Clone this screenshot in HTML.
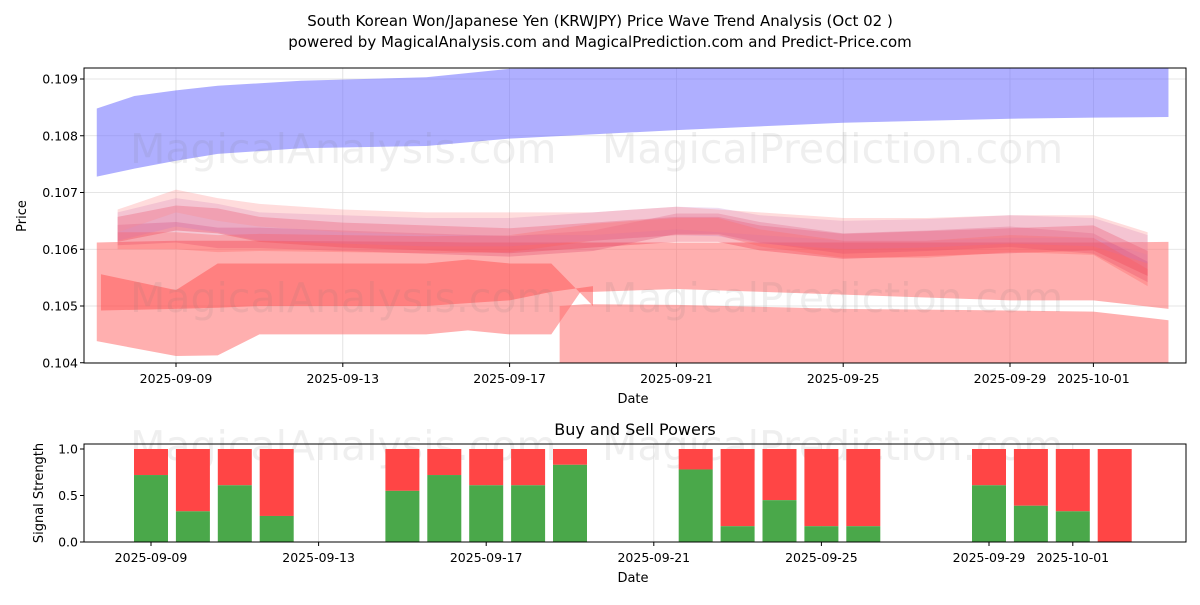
<!DOCTYPE html>
<html><head><meta charset="utf-8"><style>
body{margin:0;background:#fff;font-family:"Liberation Sans","DejaVu Sans",sans-serif}
svg text{font-family:"DejaVu Sans","Liberation Sans",sans-serif}
</style></head><body>
<svg id="c" width="1200" height="600" xmlns="http://www.w3.org/2000/svg">
<rect width="1200" height="600" fill="#fff"/>
<text x="600" y="26" text-anchor="middle" font-size="15">South Korean Won/Japanese Yen (KRWJPY) Price Wave Trend Analysis (Oct 02 )</text>
<text x="600" y="47" text-anchor="middle" font-size="15">powered by MagicalAnalysis.com and MagicalPrediction.com and Predict-Price.com</text>
<defs><clipPath id="cp1"><rect x="84" y="68" width="1102" height="295"/></clipPath></defs>
<g id="grid1"></g>
<g id="bands" clip-path="url(#cp1)"></g>
<g id="wm" font-size="41" fill="rgba(120,120,120,0.12)">
<text x="130" y="163">MagicalAnalysis.com</text>
<text x="602" y="163">MagicalPrediction.com</text>
<text x="130" y="312">MagicalAnalysis.com</text>
<text x="602" y="312">MagicalPrediction.com</text>
<text x="130" y="460">MagicalAnalysis.com</text>
<text x="602" y="460">MagicalPrediction.com</text>
</g>
<rect x="84" y="68" width="1102" height="295" fill="none" stroke="#000"/>
<g id="ax1" font-size="12.5"></g>
<text x="633" y="403" text-anchor="middle" font-size="13">Date</text>
<text x="26" y="216" text-anchor="middle" font-size="13" transform="rotate(-90 26 216)">Price</text>
<text x="635" y="435" text-anchor="middle" font-size="16">Buy and Sell Powers</text>
<g id="grid2"></g>
<g id="bars"></g>
<rect x="84" y="444" width="1102" height="98" fill="none" stroke="#000"/>
<g id="ax2" font-size="12.5"></g>
<text x="633" y="582" text-anchor="middle" font-size="13">Date</text>
<text x="43" y="493" text-anchor="middle" font-size="13" transform="rotate(-90 43 493)">Signal Strength</text>
</svg>
<script>
const NS="http://www.w3.org/2000/svg";
const priceTicks=[0.104,0.105,0.106,0.107,0.108,0.109];
const dateTicks=["2025-09-09","2025-09-13","2025-09-17","2025-09-21","2025-09-25","2025-09-29","2025-10-01"];
const dateTickDays=[2,6,10,14,18,22,24];
const purpleDays=[0.1,1,2,3,5,8,10,14,18,22,24,25.8];
const purpleTop=[0.10848,0.1087,0.1088,0.10888,0.10897,0.10903,0.10918,0.1092,0.1092,0.1092,0.1092,0.1092];
const purpleBot=[0.10728,0.10742,0.10756,0.10768,0.10778,0.10782,0.10795,0.1081,0.10823,0.10830,0.10832,0.10833];
const bigDays=[0.1,2,3,4,8,9,10,11,11.7,12,14,18,22,24,25.8];
const bigTop=[0.10612,0.10615,0.10615,0.10615,0.10613,0.10612,0.10612,0.10612,0.10612,0.10612,0.10612,0.10612,0.10612,0.10612,0.10613];
const bigBot=[0.10438,0.10412,0.10413,0.1045,0.1045,0.10457,0.1045,0.1045,0.10525,0.10525,0.1053,0.1052,0.1051,0.1051,0.10495];
const lowDays=[11.2,11.8,12,14,18,22,24,25.8];
const lowTop=[0.1050,0.10503,0.10503,0.10502,0.10495,0.10492,0.1049,0.10475];
const lowBot=[0.1034,0.1034,0.1034,0.1034,0.1034,0.1034,0.1034,0.1034];
const midDays=[0.2,2,3,4,8,9,10,11,12];
const midTop=[0.10556,0.10528,0.10575,0.10575,0.10575,0.10582,0.10575,0.10575,0.105];
const midBot=[0.10492,0.10495,0.10497,0.105,0.105,0.10505,0.1051,0.10525,0.10535];
const waveDays=[0.6,2,3,4,6,8,10,12,14,15,16,18,20,22,24,25.3];
const waveA=[0.10635,0.10655,0.1065,0.10635,0.10625,0.1062,0.10615,0.10625,0.10635,0.10635,0.1062,0.10605,0.1061,0.10615,0.1062,0.10575];
const waveB=[0.10625,0.1063,0.1062,0.1062,0.10615,0.1061,0.10605,0.10615,0.10645,0.10645,0.1063,0.1061,0.10615,0.10622,0.1061,0.1056];
const waveC=[0.1064,0.10665,0.10655,0.1064,0.10635,0.1063,0.1063,0.1064,0.1065,0.10648,0.10635,0.10625,0.10628,0.10635,0.1063,0.106];
const waveD=[0.10615,0.10615,0.1061,0.10612,0.1061,0.10608,0.1061,0.1063,0.1064,0.1064,0.1062,0.106,0.106,0.1061,0.10605,0.1055];
const waveE=[0.1065,0.10685,0.1067,0.1066,0.1065,0.10645,0.10645,0.10645,0.10655,0.1065,0.10645,0.10635,0.10635,0.1064,0.1064,0.1061];
const waveHalf=[0.00022,0.00018,0.00025,0.00015,0.0002];
const waveColors=["rgba(240,60,80,0.35)","rgba(220,70,110,0.3)","rgba(190,120,200,0.25)","rgba(255,90,90,0.3)","rgba(255,140,140,0.3)"];
const barDays=[2,3,4,5,8,9,10,11,12,15,16,17,18,19,22,23,24,25];
const buyVals=[0.72,0.33,0.61,0.28,0.55,0.72,0.61,0.61,0.83,0.78,0.17,0.45,0.17,0.17,0.61,0.39,0.33,0.0];
const sigTicks=[0.0,0.5,1.0];

const X=d=>92.6+d*41.7, Y=v=>79+(0.109-v)/0.001*56.75;
const X2=d=>67.2+d*41.9, Y2=v=>542-v*93;
function el(t,a,p){const e=document.createElementNS(NS,t);for(const k in a)e.setAttribute(k,a[k]);document.getElementById(p).appendChild(e);return e;}
function band(days,top,bot,fill,name){
  const pts=days.map((d,i)=>X(d)+","+Y(top[i])).concat(days.map((d,i)=>X(d)+","+Y(bot[i])).reverse());
  const e=el("polygon",{points:pts.join(" "),fill:fill},"bands");
  
  
}
priceTicks.forEach(v=>{
  const g=el("line",{x1:84,x2:1186,y1:Y(v),y2:Y(v),stroke:"#ddd","stroke-width":0.8},"grid1");
  
  
  const t=el("text",{x:78,y:Y(v)+4.5,"text-anchor":"end"},"ax1");t.textContent=v.toFixed(3);
  
  
  el("line",{x1:80,x2:84,y1:Y(v),y2:Y(v),stroke:"#000"},"ax1");
});
dateTickDays.forEach((d,i)=>{
  const g=el("line",{x1:X(d),x2:X(d),y1:68,y2:363,stroke:"#ddd","stroke-width":0.8},"grid1");
  
  
  el("line",{x1:X(d),x2:X(d),y1:363,y2:367,stroke:"#000"},"ax1");
  const t=el("text",{x:X(d),y:383,"text-anchor":"middle"},"ax1");t.textContent=dateTicks[i];
  
  
  el("line",{x1:X2(d),x2:X2(d),y1:444,y2:542,stroke:"#ddd","stroke-width":0.8},"grid2");
  el("line",{x1:X2(d),x2:X2(d),y1:542,y2:546,stroke:"#000"},"ax2");
  const t2=el("text",{x:X2(d),y:562,"text-anchor":"middle"},"ax2");t2.textContent=dateTicks[i];
  
  
});
band(purpleDays,purpleTop,purpleBot,"rgba(110,110,255,0.55)","purple-band");
band(bigDays,bigTop,bigBot,"rgba(255,110,110,0.55)","wide-band");
band(lowDays,lowTop,lowBot,"rgba(255,110,110,0.55)","low-band");
band(midDays,midTop,midBot,"rgba(255,70,70,0.45)","mid-band");
[waveA,waveB,waveC,waveD,waveE].forEach((w,k)=>{
  const h=waveHalf[k];
  band(waveDays,w.map(v=>v+h),w.map(v=>v-h),waveColors[k],"wave-band");
});
sigTicks.forEach(v=>{
  el("line",{x1:80,x2:84,y1:Y2(v),y2:Y2(v),stroke:"#000"},"ax2");
  const t=el("text",{x:78,y:Y2(v)+4.5,"text-anchor":"end"},"ax2");t.textContent=v.toFixed(1);
  
  
});
barDays.forEach((d,i)=>{
  const x=X2(d)-17,b=buyVals[i];
  const r=el("rect",{x:x,y:Y2(1),width:34,height:Y2(b)-Y2(1),fill:"#ff4545"},"bars");
  
  
  const g=el("rect",{x:x,y:Y2(b),width:34,height:Y2(0)-Y2(b),fill:"#4aa84a"},"bars");
  
  
});
</script>
</body></html>
